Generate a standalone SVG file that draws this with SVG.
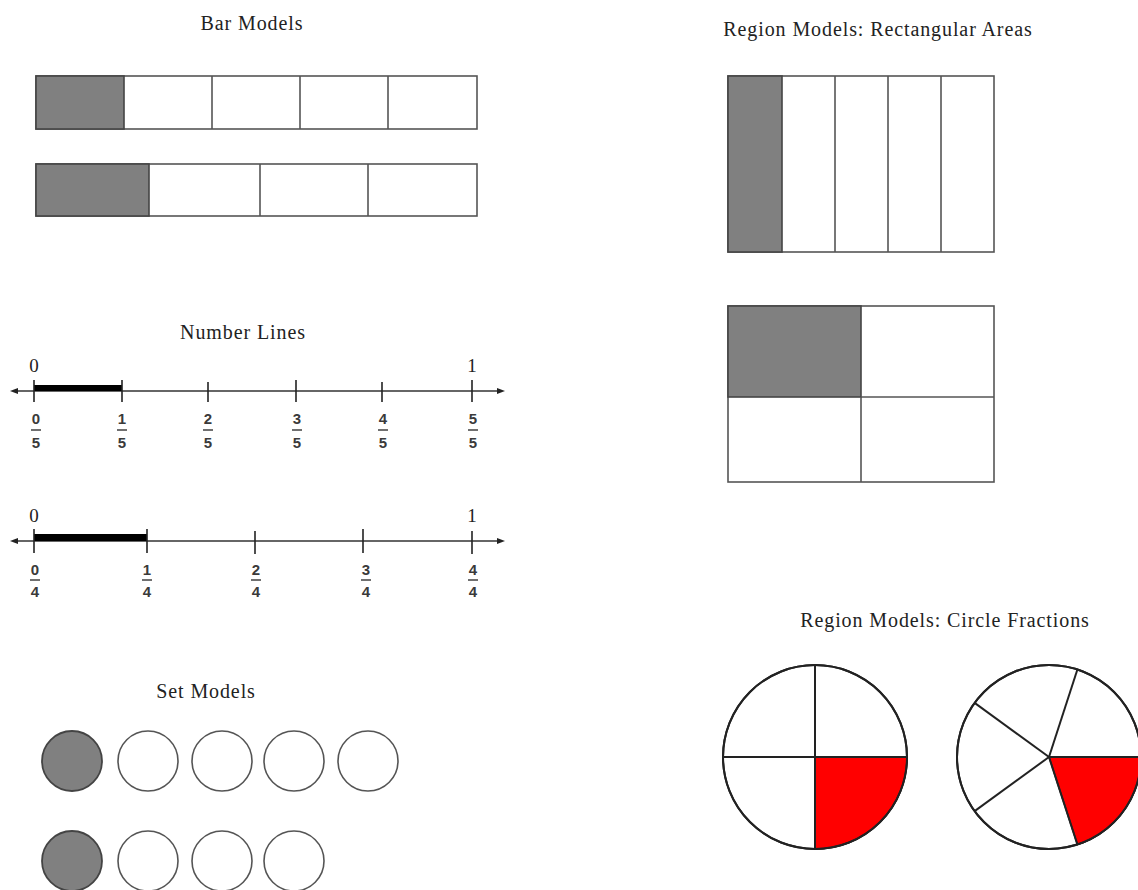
<svg xmlns="http://www.w3.org/2000/svg" width="1138" height="890" viewBox="0 0 1138 890">
<style>
.title{font-family:"Liberation Serif","Times New Roman",serif;font-size:20px;letter-spacing:0.9px;fill:#222;text-anchor:middle}
.big{font-family:"Liberation Serif","Times New Roman",serif;font-size:19px;fill:#222;text-anchor:middle}
.fr{font-family:"Liberation Sans",Arial,sans-serif;font-size:15px;font-weight:bold;fill:#3a3a3a;text-anchor:middle}
.cell{fill:#fff;stroke:#555;stroke-width:1.6}
.shade{fill:#808080;stroke:#444;stroke-width:1.6}
.axis{stroke:#333;stroke-width:1.4;fill:none}
.tick{stroke:#222;stroke-width:1.6}
.fbar{stroke:#333;stroke-width:1.4}
.dot{fill:#fff;stroke:#555;stroke-width:1.6}
.dotf{fill:#808080;stroke:#444;stroke-width:1.8}
.pie{fill:#fff;stroke:#222;stroke-width:2}
.spoke{stroke:#222;stroke-width:2}
.red{fill:#f00;stroke:#222;stroke-width:1.5}
</style>
<rect width="1138" height="890" fill="#fff"/>

<g id="bar-models">
<text class="title" x="252" y="30">Bar Models</text>
<g id="bar-fifths">
<rect class="cell" x="36" y="76" width="441" height="53"/>
<rect class="shade" x="36" y="76" width="88" height="53"/>
<line class="cell" x1="212" y1="76" x2="212" y2="129"/>
<line class="cell" x1="300" y1="76" x2="300" y2="129"/>
<line class="cell" x1="388" y1="76" x2="388" y2="129"/>
</g>
<g id="bar-fourths">
<rect class="cell" x="36" y="164" width="441" height="52"/>
<rect class="shade" x="36" y="164" width="113" height="52"/>
<line class="cell" x1="260" y1="164" x2="260" y2="216"/>
<line class="cell" x1="368" y1="164" x2="368" y2="216"/>
</g>
</g>

<g id="number-lines">
<text class="title" x="243" y="339">Number Lines</text>
<g id="numberline-fifths">
<line class="axis" x1="14" y1="391" x2="500" y2="391"/>
<polygon points="10,391 18,388 18,394" fill="#222"/>
<polygon points="505,391 497,388 497,394" fill="#222"/>
<rect x="34" y="385" width="88" height="6" fill="#000"/>
<line class="tick" x1="34" y1="380" x2="34" y2="402"/>
<line class="tick" x1="122" y1="380" x2="122" y2="402"/>
<line class="tick" x1="208" y1="382" x2="208" y2="402"/>
<line class="tick" x1="296" y1="380" x2="296" y2="402"/>
<line class="tick" x1="382" y1="382" x2="382" y2="402"/>
<line class="tick" x1="472" y1="380" x2="472" y2="402"/>
<text class="big" x="34" y="372">0</text>
<text class="big" x="472" y="372">1</text>
<text class="fr" x="36" y="424">0</text><line class="fbar" x1="31" y1="430" x2="41" y2="430"/><text class="fr" x="36" y="448">5</text>
<text class="fr" x="122" y="424">1</text><line class="fbar" x1="117" y1="430" x2="127" y2="430"/><text class="fr" x="122" y="448">5</text>
<text class="fr" x="208" y="424">2</text><line class="fbar" x1="203" y1="430" x2="213" y2="430"/><text class="fr" x="208" y="448">5</text>
<text class="fr" x="297" y="424">3</text><line class="fbar" x1="292" y1="430" x2="302" y2="430"/><text class="fr" x="297" y="448">5</text>
<text class="fr" x="383" y="424">4</text><line class="fbar" x1="378" y1="430" x2="388" y2="430"/><text class="fr" x="383" y="448">5</text>
<text class="fr" x="473" y="424">5</text><line class="fbar" x1="468" y1="430" x2="478" y2="430"/><text class="fr" x="473" y="448">5</text>
</g>
<g id="numberline-fourths">
<line class="axis" x1="14" y1="541" x2="500" y2="541"/>
<polygon points="10,541 18,538 18,544" fill="#222"/>
<polygon points="505,541 497,538 497,544" fill="#222"/>
<rect x="34" y="534" width="113" height="7" fill="#000"/>
<line class="tick" x1="34" y1="529" x2="34" y2="553"/>
<line class="tick" x1="147" y1="529" x2="147" y2="553"/>
<line class="tick" x1="255" y1="531" x2="255" y2="554"/>
<line class="tick" x1="363" y1="529" x2="363" y2="553"/>
<line class="tick" x1="472" y1="531" x2="472" y2="554"/>
<text class="big" x="34" y="522">0</text>
<text class="big" x="472" y="522">1</text>
<text class="fr" x="35" y="575">0</text><line class="fbar" x1="30" y1="580" x2="40" y2="580"/><text class="fr" x="35" y="597">4</text>
<text class="fr" x="147" y="575">1</text><line class="fbar" x1="142" y1="580" x2="152" y2="580"/><text class="fr" x="147" y="597">4</text>
<text class="fr" x="256" y="575">2</text><line class="fbar" x1="251" y1="580" x2="261" y2="580"/><text class="fr" x="256" y="597">4</text>
<text class="fr" x="366" y="575">3</text><line class="fbar" x1="361" y1="580" x2="371" y2="580"/><text class="fr" x="366" y="597">4</text>
<text class="fr" x="473" y="575">4</text><line class="fbar" x1="468" y1="580" x2="478" y2="580"/><text class="fr" x="473" y="597">4</text>
</g>
</g>

<g id="set-models">
<text class="title" x="206" y="698">Set Models</text>
<g id="set-fifths">
<circle class="dotf" cx="72" cy="761" r="30"/>
<circle class="dot" cx="148" cy="761" r="30"/>
<circle class="dot" cx="222" cy="761" r="30"/>
<circle class="dot" cx="294" cy="761" r="30"/>
<circle class="dot" cx="368" cy="761" r="30"/>
</g>
<g id="set-fourths">
<circle class="dotf" cx="72" cy="861" r="30"/>
<circle class="dot" cx="148" cy="861" r="30"/>
<circle class="dot" cx="222" cy="861" r="30"/>
<circle class="dot" cx="294" cy="861" r="30"/>
</g>
</g>

<g id="rectangular-areas">
<text class="title" x="878" y="36">Region Models: Rectangular Areas</text>
<g id="rect-fifths">
<rect class="cell" x="728" y="76" width="266" height="176"/>
<rect class="shade" x="728" y="76" width="54" height="176"/>
<line class="cell" x1="835" y1="76" x2="835" y2="252"/>
<line class="cell" x1="888" y1="76" x2="888" y2="252"/>
<line class="cell" x1="941" y1="76" x2="941" y2="252"/>
</g>
<g id="rect-fourths">
<rect class="cell" x="728" y="306" width="266" height="176"/>
<rect class="shade" x="728" y="306" width="133" height="91"/>
<line class="cell" x1="861" y1="397" x2="861" y2="482"/>
<line class="cell" x1="861" y1="397" x2="994" y2="397"/>
</g>
</g>

<g id="circle-fractions">
<text class="title" x="945" y="627">Region Models: Circle Fractions</text>
<g id="circle-fourths">
<circle class="pie" cx="815" cy="757" r="92"/>
<path class="red" d="M815,757 L907,757 A92,92 0 0 1 815,849 Z"/>
<line class="spoke" x1="815" y1="665" x2="815" y2="849"/>
<line class="spoke" x1="723" y1="757" x2="907" y2="757"/>
<circle cx="815" cy="757" r="92" fill="none" stroke="#222" stroke-width="2"/>
</g>
<g id="circle-fifths">
<circle class="pie" cx="1049" cy="757" r="92"/>
<path class="red" d="M1049,757 L1141,757 A92,92 0 0 1 1077.4,844.5 Z"/>
<line class="spoke" x1="1049" y1="757" x2="1141" y2="757"/>
<line class="spoke" x1="1049" y1="757" x2="1077.4" y2="669.5"/>
<line class="spoke" x1="1049" y1="757" x2="974.6" y2="702.9"/>
<line class="spoke" x1="1049" y1="757" x2="974.6" y2="811.1"/>
<line class="spoke" x1="1049" y1="757" x2="1077.4" y2="844.5"/>
<circle cx="1049" cy="757" r="92" fill="none" stroke="#222" stroke-width="2"/>
</g>
</g>
</svg>
